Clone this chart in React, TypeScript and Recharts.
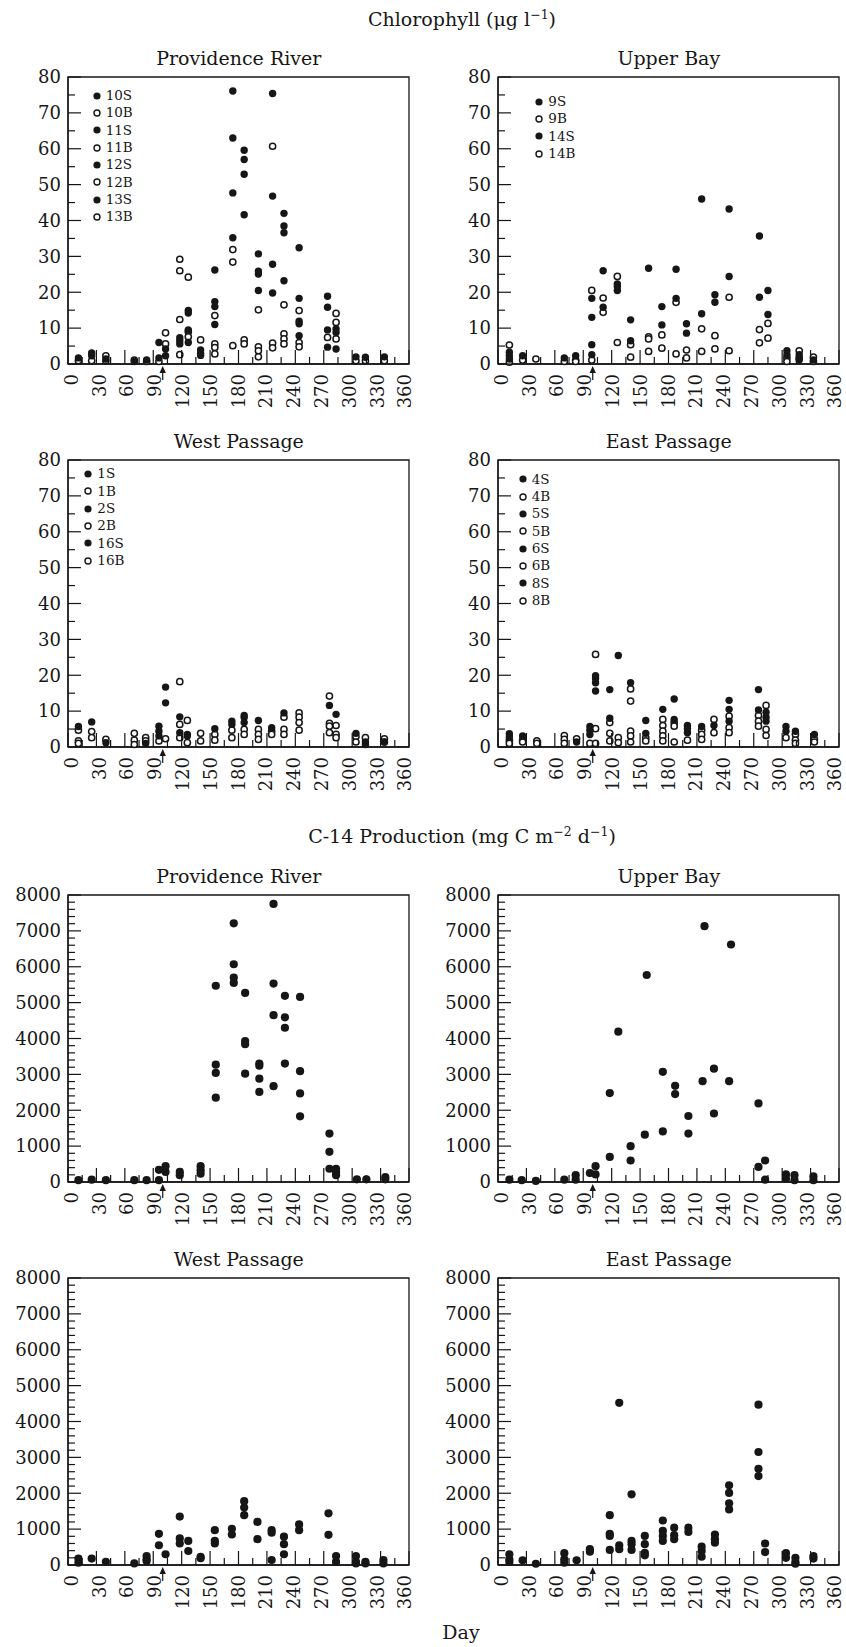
import {
	ScatterChart,
	Scatter,
	XAxis,
	YAxis,
	ReferenceArea,
	ReferenceDot,
	Legend,
} from "recharts";

const FONT = '"DejaVu Serif", "Liberation Serif", serif';
const INK = "#161616";

// axis ticks
const dayTicks = [0, 15, 30, 45, 60, 75, 90, 105, 120, 135, 150, 165, 180, 195, 210, 225, 240, 255, 270, 285, 300, 315, 330, 345, 360];
const chlTicks = [0, 5, 10, 15, 20, 25, 30, 35, 40, 45, 50, 55, 60, 65, 70, 75, 80];
const c14Ticks = [
	0, 200, 400, 600, 800, 1000, 1200, 1400, 1600, 1800, 2000, 2200, 2400, 2600, 2800, 3000, 3200, 3400, 3600, 3800, 4000,
	4200, 4400, 4600, 4800, 5000, 5200, 5400, 5600, 5800, 6000, 6200, 6400, 6600, 6800, 7000, 7200, 7400, 7600, 7800, 8000,
];
const arrowDay = 100;

// legend stations
const prStations = ["10S", "10B", "11S", "11B", "12S", "12B", "13S", "13B"];
const ubStations = ["9S", "9B", "14S", "14B"];
const wpStations = ["1S", "1B", "2S", "2B", "16S", "16B"];
const epStations = ["4S", "4B", "5S", "5B", "6S", "6B", "8S", "8B"];

type Group = [number, number[]];

// chlorophyll, surface (filled) and bottom (open): [day, values]
const prChlS: Group[] = [
	[11, [1.7]], [25, [3.1, 2.3]], [40, [1.4]], [70, [0.7]], [83, [1.1]], [96, [6.0, 1.7]], [103, [4.2, 2.3]],
	[118, [7.3, 6.5, 5.6]], [127, [14.9, 14.2, 9.5, 6.0]], [140, [3.9, 3.0, 2.4]], [155, [26.2, 17.4, 16.0, 11.0]],
	[174, [76.1, 63.0, 47.7, 35.2]], [186, [59.6, 57.0, 52.9, 41.6]], [201, [30.7, 25.9, 25.1, 20.5]],
	[216, [75.4, 46.8, 27.8, 19.8]], [228, [42.0, 38.5, 36.6, 23.2]], [244, [32.4, 18.3, 11.9, 11.2, 7.9]],
	[274, [18.9, 15.8, 9.5, 4.7]], [283, [9.8, 8.8, 4.2]], [304, [2.0]], [314, [1.9]], [334, [2.0]],
];
const prChlB: Group[] = [
	[11, [0.9]], [25, [0.9]], [40, [2.3, 0.9]], [70, [1.1]], [83, [0.7]], [96, [0.7]], [103, [8.7, 5.6]],
	[118, [29.2, 26.0, 12.4, 2.6]], [127, [24.2, 9.0, 7.6]], [140, [6.7]], [155, [13.5, 5.6, 4.6, 2.8]],
	[174, [31.9, 28.4, 5.1]], [186, [6.7, 5.6]], [201, [15.1, 4.8, 3.7, 2.0]], [216, [60.7, 5.8, 4.5]],
	[228, [16.5, 8.4, 7.0, 5.6]], [244, [14.9, 6.0, 4.8]], [274, [7.4]], [283, [14.1, 11.6, 7.0]],
	[304, [0.9]], [314, [0.9]], [334, [0.9]],
];
const ubChlS: Group[] = [
	[12, [3.3, 2.3, 1.4]], [26, [2.3]], [70, [1.7]], [82, [2.3]], [99, [18.3, 13.0, 5.4, 2.6]], [111, [26.0, 15.8]],
	[126, [22.3, 21.6, 20.5]], [140, [12.3, 6.5]], [159, [26.7]], [173, [16.0, 10.9]], [188, [26.4, 18.3]],
	[199, [11.2, 8.6]], [215, [46.0, 14.0]], [229, [19.3, 17.2]], [244, [43.2, 24.4]], [276, [35.7, 18.6]],
	[285, [20.5, 13.8]], [305, [3.7, 2.6]], [318, [2.6, 1.1]], [333, [1.1]],
];
const ubChlB: Group[] = [
	[12, [5.3, 0.5]], [26, [1.1]], [40, [1.4]], [70, [0.7]], [82, [1.1, 0.7]], [99, [20.5, 1.1]], [111, [18.4, 14.4]],
	[126, [24.4, 6.0]], [140, [5.4, 1.9]], [159, [7.6, 7.0, 3.5]], [173, [8.1, 4.4]], [188, [17.2, 2.8]],
	[199, [3.9, 1.7]], [215, [9.8, 3.5]], [229, [7.9, 4.2]], [244, [18.6, 3.7]], [276, [9.6, 5.9]],
	[285, [11.3, 7.2]], [305, [1.7, 0.7]], [318, [3.7, 1.7]], [333, [1.9, 0.7]],
];
const wpChlS: Group[] = [
	[11, [5.7]], [25, [7.0]], [40, [1.2]], [82, [1.0]], [96, [5.8, 4.4, 3.1]], [103, [16.7, 12.3]], [118, [8.4, 4.0]],
	[126, [3.5, 3.1]], [155, [5.1]], [173, [7.2, 6.3]], [186, [8.8, 8.2, 6.8]], [201, [7.4]], [215, [5.4]],
	[228, [9.5]], [276, [11.6]], [283, [9.1]], [304, [3.8]], [314, [1.4, 0.7]], [334, [1.4]],
];
const wpChlB: Group[] = [
	[11, [4.7, 1.7, 1.0]], [25, [4.3, 2.6]], [40, [2.1]], [70, [3.8, 1.9, 0.7]], [82, [2.6, 1.7]], [96, [1.7]],
	[103, [2.3]], [118, [18.2, 6.3, 2.6]], [126, [7.4, 1.2]], [140, [3.8, 1.7]], [155, [3.5, 1.9]], [173, [4.7, 2.6]],
	[186, [4.9, 3.5]], [201, [4.9, 3.5, 2.1]], [215, [4.4, 3.5]], [228, [8.3, 4.9, 3.5]], [244, [9.5, 8.3, 6.8, 4.7]],
	[276, [14.2, 6.6, 5.8, 4.0]], [283, [6.0, 3.5, 2.6]], [304, [2.9, 1.4]], [314, [2.6]], [334, [2.3, 1.4]],
];
const epChlS: Group[] = [
	[12, [3.7, 2.8]], [26, [3.1]], [83, [1.4]], [97, [5.7, 4.7, 3.5]], [103, [19.9, 19.1, 17.9, 15.6]],
	[118, [16.0, 8.0]], [127, [25.5]], [140, [17.9]], [156, [7.4, 3.8]], [174, [10.5]], [186, [13.4, 7.7]],
	[200, [6.0, 5.1, 4.0]], [215, [5.7]], [228, [6.0]], [244, [13.0, 10.5, 7.2]], [275, [16.0, 10.3]],
	[283, [9.7, 8.3, 7.2]], [304, [5.7, 4.4]], [314, [4.4]], [334, [3.5]],
];
const epChlB: Group[] = [
	[12, [1.9, 1.0]], [26, [1.9, 1.4]], [41, [1.7, 1.0]], [70, [3.2, 2.1, 1.0]], [83, [2.3]], [97, [1.0]],
	[103, [25.8, 5.1, 1.0]], [118, [6.8, 3.8, 1.7]], [127, [2.6, 1.2]], [140, [16.2, 12.8, 4.4, 3.1, 1.4]],
	[156, [2.6, 1.7]], [174, [7.7, 6.0, 4.4, 3.1, 1.7]], [186, [6.8, 5.8, 1.4]], [200, [1.9]], [215, [4.7, 3.5, 2.1]],
	[228, [7.7, 4.0]], [244, [8.6, 5.4, 4.0]], [275, [8.8, 7.2, 5.8]], [283, [11.6, 4.9, 3.2]], [304, [2.6]],
	[314, [3.5, 1.9, 1.0]], [334, [2.1, 1.4]],
];

// C-14 production: [day, values]
const prC14: Group[] = [
	[11, [50]], [25, [65]], [40, [50]], [70, [50]], [83, [50]], [96, [340, 50]], [103, [440, 280]], [118, [280, 190]],
	[140, [440, 330, 230]], [156, [5470, 3270, 3040, 2350]], [175, [7210, 6070, 5700, 5550]],
	[187, [5270, 3930, 3840, 3020]], [202, [3300, 3240, 2880, 2510]], [217, [7750, 5530, 4650, 2670]],
	[229, [5190, 4590, 4300, 3300]], [245, [5160, 3090, 2470, 1830]], [276, [1350, 840, 370]],
	[283, [370, 280, 190]], [305, [75]], [315, [75]], [335, [140, 75]],
];
const ubC14: Group[] = [
	[12, [65]], [25, [50]], [40, [30]], [70, [65]], [82, [190, 65]], [97, [250]], [103, [440, 210]], [118, [2480, 700]],
	[127, [4190]], [140, [1000, 600]], [155, [1320]], [157, [5770]], [174, [3070, 1410]], [187, [2680, 2450]],
	[201, [1840, 1350]], [216, [2810]], [218, [7130]], [228, [3160, 1910]], [244, [2810]], [246, [6620]],
	[275, [2190, 420]], [282, [600, 65]], [304, [210, 90]], [313, [190, 50]], [333, [160, 50]],
];
const wpC14: Group[] = [
	[11, [180, 65]], [25, [180]], [40, [90]], [70, [45]], [83, [250, 160, 110]], [96, [870, 550]], [103, [300]],
	[118, [1350, 740, 600]], [127, [670, 390]], [140, [230, 190]], [155, [970, 670, 600]], [173, [1010, 850]],
	[186, [1780, 1600, 1390]], [200, [1200, 720]], [215, [970, 900, 140]], [228, [790, 580, 300]], [244, [1130, 970]],
	[275, [1440, 840]], [283, [250, 85]], [304, [250, 85, 45]], [314, [85, 45]], [333, [140, 45]],
];
const epC14: Group[] = [
	[12, [300, 160, 85]], [26, [130]], [40, [35]], [70, [330, 160, 65]], [83, [130]], [97, [440, 370]],
	[118, [1390, 870, 810, 420]], [128, [4520, 550, 440]], [141, [1970, 670, 580, 420]], [155, [810, 580, 340, 270]],
	[174, [1240, 950, 810, 670]], [186, [1040, 830, 720]], [201, [1040, 920]], [215, [510, 390, 230]],
	[229, [850, 720, 620]], [244, [2220, 2010, 1720, 1550]], [275, [4470, 3150, 2680, 2480]], [282, [600, 360]],
	[304, [330, 200]], [314, [200, 85, 35]], [333, [250, 180]],
];

const toPoints = (groups: Group[]) =>
	groups.flatMap(([day, vals]) => vals.map((value) => ({ day, value })));

// layout
const PLOT_W = 341;
const PLOT_H = 287;
const Y_AXIS_W = 62;
const TOP_PAD = 30;
const X_AXIS_H = 50;
const RIGHT_PAD = 6;
const cols = [68.3, 498.3];
const rows = [76.7, 460, 895, 1278.3];

const DayTick = (props: any) => {
	const { x, y, payload } = props;
	const v = payload.value;
	const major = v % 30 === 0;
	const ty = y + 10;
	// labels sit slightly inward of the end ticks, as in the print
	const tx = x + 3.5 - (7.5 * v) / 360;
	return (
		<g>
			<line x1={x} x2={x} y1={y} y2={y - (major ? 14 : 7)} stroke={INK} strokeWidth={1.2} />
			{major && (
				<text
					x={tx}
					y={ty}
					dy="0.35em"
					textAnchor="end"
					transform={`rotate(-90 ${tx} ${ty})`}
					fontFamily={FONT}
					fontSize={18}
					fill={INK}
				>
					{v}
				</text>
			)}
		</g>
	);
};

const valueTick = (labelStep: number) => (props: any) => {
	const { x, y, payload } = props;
	const v = payload.value;
	const major = v % labelStep === 0;
	return (
		<g>
			<line x1={x} x2={x + (major ? 13 : 7)} y1={y} y2={y} stroke={INK} strokeWidth={1.2} />
			{major && (
				<text x={x - 7} y={y} dy="0.35em" textAnchor="end" fontFamily={FONT} fontSize={18} fill={INK}>
					{v}
				</text>
			)}
		</g>
	);
};

const filledDot = (r: number) => (p: any) => <circle cx={p.cx} cy={p.cy} r={r} fill={INK} />;
const openDot = (p: any) => (
	<circle cx={p.cx} cy={p.cy} r={3.1} fill="#fff" stroke={INK} strokeWidth={1.5} />
);

const ArrowMark = (p: any) => {
	const { cx, cy } = p;
	return (
		<g>
			<polygon points={`${cx},${cy + 2} ${cx - 3.2},${cy + 9} ${cx + 3.2},${cy + 9}`} fill={INK} />
			<line x1={cx} x2={cx} y1={cy + 8} y2={cy + 16} stroke={INK} strokeWidth={1.2} />
		</g>
	);
};

const ROW_H = 17.35;

const StationLegend = ({ stations }: { stations: string[] }) => (
	<div style={{ fontFamily: FONT, fontSize: 13.5, color: INK }}>
		{stations.map((s) => (
			<div key={s} style={{ display: "flex", alignItems: "center", height: ROW_H }}>
				<svg width={10} height={10} style={{ display: "block" }}>
					{s.endsWith("S") ? (
						<circle cx={5} cy={5} r={3.6} fill={INK} />
					) : (
						<circle cx={5} cy={5} r={3} fill="#fff" stroke={INK} strokeWidth={1.4} />
					)}
				</svg>
				<span style={{ marginLeft: 4, lineHeight: 1 }}>{s}</span>
			</div>
		))}
	</div>
);

type PanelProps = {
	plotLeft: number;
	plotTop: number;
	filled: Group[];
	open?: Group[];
	yMax: number;
	yTicks: number[];
	labelStep: number;
	dotR: number;
	stations?: string[];
	legendAt?: [number, number];
};

const Panel = ({ plotLeft, plotTop, filled, open, yMax, yTicks, labelStep, dotR, stations, legendAt }: PanelProps) => (
	<div style={{ position: "absolute", left: plotLeft - Y_AXIS_W, top: plotTop - TOP_PAD }}>
		<ScatterChart
			width={PLOT_W + Y_AXIS_W + RIGHT_PAD}
			height={PLOT_H + TOP_PAD + X_AXIS_H}
			margin={{ top: TOP_PAD, right: RIGHT_PAD, bottom: 0, left: 0 }}
		>
			<XAxis
				type="number"
				dataKey="day"
				domain={[0, 360]}
				ticks={dayTicks}
				interval={0}
				tickSize={0}
				tickMargin={0}
				height={X_AXIS_H}
				tickLine={false}
				axisLine={{ stroke: INK, strokeWidth: 1.3 }}
				tick={DayTick}
			/>
			<YAxis
				type="number"
				dataKey="value"
				domain={[0, yMax]}
				ticks={yTicks}
				interval={0}
				tickSize={0}
				tickMargin={0}
				width={Y_AXIS_W}
				tickLine={false}
				axisLine={{ stroke: INK, strokeWidth: 1.3 }}
				tick={valueTick(labelStep)}
			/>
			<ReferenceArea
				x1={0}
				x2={360}
				y1={0}
				y2={yMax}
				fill="none"
				fillOpacity={0}
				stroke={INK}
				strokeWidth={1.3}
				ifOverflow="visible"
			/>
			{open && <Scatter data={toPoints(open)} shape={openDot} isAnimationActive={false} />}
			<Scatter data={toPoints(filled)} shape={filledDot(dotR)} isAnimationActive={false} />
			<ReferenceDot x={arrowDay} y={0} shape={ArrowMark} ifOverflow="visible" />
			{stations && legendAt && (
				<Legend
					layout="vertical"
					align="center"
					verticalAlign="middle"
					wrapperStyle={{
						left: Y_AXIS_W + legendAt[0] - 5,
						top: TOP_PAD + legendAt[1] - ROW_H / 2,
						width: "auto",
						height: "auto",
					}}
					content={() => <StationLegend stations={stations} />}
				/>
			)}
		</ScatterChart>
	</div>
);

const panelTitles = [
	["Providence River", "Upper Bay"],
	["West Passage", "East Passage"],
	["Providence River", "Upper Bay"],
	["West Passage", "East Passage"],
];

export default function App() {
	return (
		<div style={{ position: "absolute", left: 0, top: 0, width: 846, height: 1647, background: "#fff" }}>
			<svg
				width={846}
				height={1647}
				style={{ position: "absolute", left: 0, top: 0, pointerEvents: "none" }}
				fontFamily={FONT}
				fill={INK}
			>
				<text x={462} y={26} textAnchor="middle" fontSize={19}>
					Chlorophyll (μg l<tspan dy={-7} fontSize={12.5}>−1</tspan>
					<tspan dy={7}>)</tspan>
				</text>
				<text x={462} y={843} textAnchor="middle" fontSize={19}>
					C-14 Production (mg C m<tspan dy={-7} fontSize={12.5}>−2</tspan>
					<tspan dy={7}> d</tspan>
					<tspan dy={-7} fontSize={12.5}>−1</tspan>
					<tspan dy={7}>)</tspan>
				</text>
				{rows.map((rt, ri) =>
					cols.map((cl, ci) => (
						<text key={`${ri}-${ci}`} x={cl + PLOT_W / 2} y={rt - 12} textAnchor="middle" fontSize={19}>
							{panelTitles[ri][ci]}
						</text>
					)),
				)}
				<text x={461} y={1639} textAnchor="middle" fontSize={19}>
					Day
				</text>
			</svg>

			<Panel plotLeft={cols[0]} plotTop={rows[0]} filled={prChlS} open={prChlB} yMax={80} yTicks={chlTicks}
				labelStep={10} dotR={3.7} stations={prStations} legendAt={[28.4, 19]} />
			<Panel plotLeft={cols[1]} plotTop={rows[0]} filled={ubChlS} open={ubChlB} yMax={80} yTicks={chlTicks}
				labelStep={10} dotR={3.7} stations={ubStations} legendAt={[41, 25]} />
			<Panel plotLeft={cols[0]} plotTop={rows[1]} filled={wpChlS} open={wpChlB} yMax={80} yTicks={chlTicks}
				labelStep={10} dotR={3.7} stations={wpStations} legendAt={[20, 14]} />
			<Panel plotLeft={cols[1]} plotTop={rows[1]} filled={epChlS} open={epChlB} yMax={80} yTicks={chlTicks}
				labelStep={10} dotR={3.7} stations={epStations} legendAt={[24.4, 19.3]} />
			<Panel plotLeft={cols[0]} plotTop={rows[2]} filled={prC14} yMax={8000} yTicks={c14Ticks}
				labelStep={1000} dotR={4.1} />
			<Panel plotLeft={cols[1]} plotTop={rows[2]} filled={ubC14} yMax={8000} yTicks={c14Ticks}
				labelStep={1000} dotR={4.1} />
			<Panel plotLeft={cols[0]} plotTop={rows[3]} filled={wpC14} yMax={8000} yTicks={c14Ticks}
				labelStep={1000} dotR={4.1} />
			<Panel plotLeft={cols[1]} plotTop={rows[3]} filled={epC14} yMax={8000} yTicks={c14Ticks}
				labelStep={1000} dotR={4.1} />
		</div>
	);
}
